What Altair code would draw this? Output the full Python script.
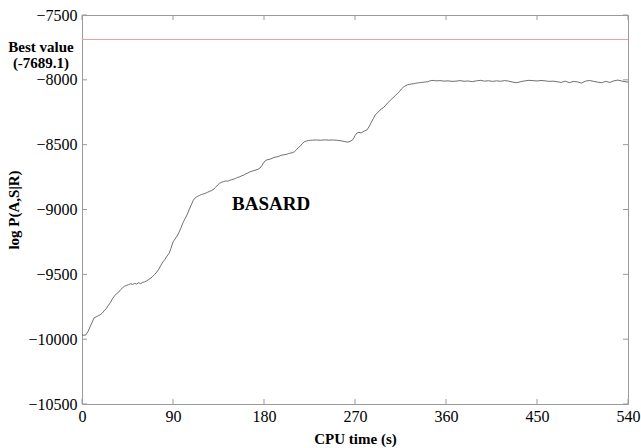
import altair as alt
import pandas as pd

# CPU time (s) and log P(A,S|R)
t_vals = [0, 2, 4, 6, 8, 10, 12, 14, 16, 18, 20, 22, 24, 26, 28, 30, 32, 34, 36, 38,
          40, 42, 44, 46, 48, 50, 52, 54, 56, 58, 60, 62, 64, 66, 68, 70, 72, 74, 76, 78,
          80, 82, 84, 86, 88, 90, 92, 94, 96, 98, 100, 102, 104, 106, 108, 110, 112, 114, 116, 118,
          120, 122, 124, 126, 128, 130, 132, 134, 136, 138, 140, 142, 144, 146, 148, 150, 152, 154, 156, 158,
          160, 162, 164, 166, 168, 170, 172, 174, 176, 178, 180, 182, 184, 186, 188, 190, 192, 194, 196, 198,
          200, 202, 204, 206, 208, 210, 212, 214, 216, 218, 220, 222, 224, 226, 228, 232, 236, 240, 244, 248,
          252, 256, 260, 262, 264, 266, 268, 270, 272, 274, 276, 278, 280, 282, 284, 286, 288, 290, 292, 294,
          296, 298, 300, 302, 304, 306, 308, 310, 312, 314, 316, 318, 320, 322, 324, 326, 328, 330, 332, 334,
          336, 338, 340, 342, 344, 346, 348, 350, 354, 358, 362, 366, 370, 374, 378, 382, 386, 390, 394, 398,
          402, 406, 410, 414, 418, 422, 426, 430, 434, 438, 442, 446, 450, 454, 458, 462, 466, 470, 474, 478,
          482, 486, 490, 494, 498, 502, 506, 510, 514, 518, 522, 526, 530, 534, 538, 540]
logp_vals = [-9968, -9970, -9966, -9940, -9905, -9870, -9835, -9828, -9820, -9812, -9800, -9780, -9765, -9740, -9718, -9690, -9668, -9650, -9640, -9620,
             -9605, -9592, -9585, -9580, -9572, -9578, -9570, -9575, -9565, -9572, -9562, -9558, -9550, -9540, -9530, -9515, -9500, -9482, -9460, -9430,
             -9405, -9385, -9360, -9340, -9300, -9250, -9228, -9205, -9175, -9140, -9100, -9070, -9040, -9000, -8965, -8930, -8910, -8900, -8892, -8885,
             -8880, -8875, -8868, -8860, -8855, -8845, -8830, -8812, -8798, -8790, -8785, -8780, -8782, -8775, -8770, -8766, -8760, -8752, -8748, -8740,
             -8735, -8725, -8718, -8710, -8705, -8700, -8695, -8690, -8680, -8660, -8635, -8620, -8615, -8612, -8605, -8598, -8595, -8592, -8585, -8580,
             -8578, -8575, -8570, -8565, -8562, -8555, -8540, -8522, -8510, -8490, -8478, -8472, -8468, -8466, -8465, -8464, -8466, -8463, -8465, -8464,
             -8466, -8470, -8476, -8480, -8478, -8472, -8460, -8430, -8410, -8405, -8410, -8400, -8392, -8385, -8360, -8330, -8300, -8270, -8255, -8240,
             -8225, -8215, -8200, -8180, -8165, -8150, -8135, -8120, -8105, -8090, -8070, -8055, -8045, -8038, -8035, -8032, -8030, -8026, -8024, -8022,
             -8020, -8018, -8016, -8015, -8008, -8005, -8005, -8008, -8006, -8010, -8008, -8012, -8010, -8006, -8011, -8009, -8014, -8008, -8004, -8010,
             -8007, -8012, -8008, -8011, -8006, -8010, -8018, -8022, -8014, -8008, -8004, -8006, -8009, -8005, -8008, -8012, -8010, -8015, -8020, -8010,
             -8022, -8012, -8016, -8025, -8010, -8005, -8012, -8018, -8022, -8012, -8020, -8008, -8002, -8010, -8015, -8018]

x_ticks = [0, 90, 180, 270, 360, 450, 540]
y_ticks = [-10500, -10000, -9500, -9000, -8500, -8000, -7500]
best_value = [-7689.1]
best_label = ["Best value", "(-7689.1)"]
method_label = "BASARD"
method_pos = (187, -8958)

W, H = 546, 389
FONT = "Liberation Serif"
FRAME = "#9a9a9a"

df = pd.DataFrame({"t": t_vals, "v": logp_vals})
xt = pd.DataFrame({"t": x_ticks})
yt = pd.DataFrame({"v": y_ticks})
bv = pd.DataFrame({"v": best_value})

xenc = alt.X("t:Q", scale=alt.Scale(domain=[0, 540], nice=False, zero=False),
             axis=alt.Axis(values=x_ticks, format="d", title="CPU time (s)", grid=False,
                           domain=False, ticks=False, labelPadding=4, titlePadding=7,
                           labelFlush=False))
yenc = alt.Y("v:Q", scale=alt.Scale(domain=[-10500, -7500], nice=False, zero=False),
             axis=alt.Axis(values=y_ticks, format="d", title="log P(A,S|R)", grid=False,
                           domain=False, ticks=False, labelPadding=5, titlePadding=6))

line = alt.Chart(df).mark_line(color="#4a4a4a", strokeWidth=0.8).encode(x=xenc, y=yenc)

best = alt.Chart(bv).mark_rule(strokeWidth=1, color="#e9a0ab").encode(
    y=yenc, x=alt.value(0), x2=alt.value(W))

best_txt = alt.Chart(bv).mark_text(
    font=FONT, fontSize=15, fontWeight="bold", align="center", baseline="middle",
    lineHeight=16, dy=7, color="black"
).encode(x=alt.value(-41), y=yenc, text=alt.value(best_label))

meth_txt = alt.Chart(bv).mark_text(
    font=FONT, fontSize=19, fontWeight="bold", align="center", baseline="middle", color="black"
).encode(x=alt.datum(method_pos[0]), y=alt.datum(method_pos[1]), text=alt.value(method_label))

tick_bot = alt.Chart(xt).mark_rule(color=FRAME).encode(x=xenc, y=alt.value(H), y2=alt.value(H - 5))
tick_top = alt.Chart(xt).mark_rule(color=FRAME).encode(x=xenc, y=alt.value(0), y2=alt.value(5))
tick_left = alt.Chart(yt).mark_rule(color=FRAME).encode(y=yenc, x=alt.value(0), x2=alt.value(5))
tick_right = alt.Chart(yt).mark_rule(color=FRAME).encode(y=yenc, x=alt.value(W), x2=alt.value(W - 5))

chart = alt.layer(line, tick_bot, tick_top, tick_left, tick_right, best, best_txt, meth_txt).properties(
    width=W, height=H,
    autosize=alt.AutoSizeParams(type="none"),
    padding={"left": 82, "top": 15, "right": 13, "bottom": 44},
    background="white",
).configure_view(stroke=FRAME, strokeWidth=1).configure_axis(
    labelFont=FONT, labelFontSize=16, labelColor="black",
    titleFont=FONT, titleFontSize=15, titleFontWeight="bold", titleColor="black",
)

chart.save("out.html", embed_options={"renderer": "svg", "actions": False})
